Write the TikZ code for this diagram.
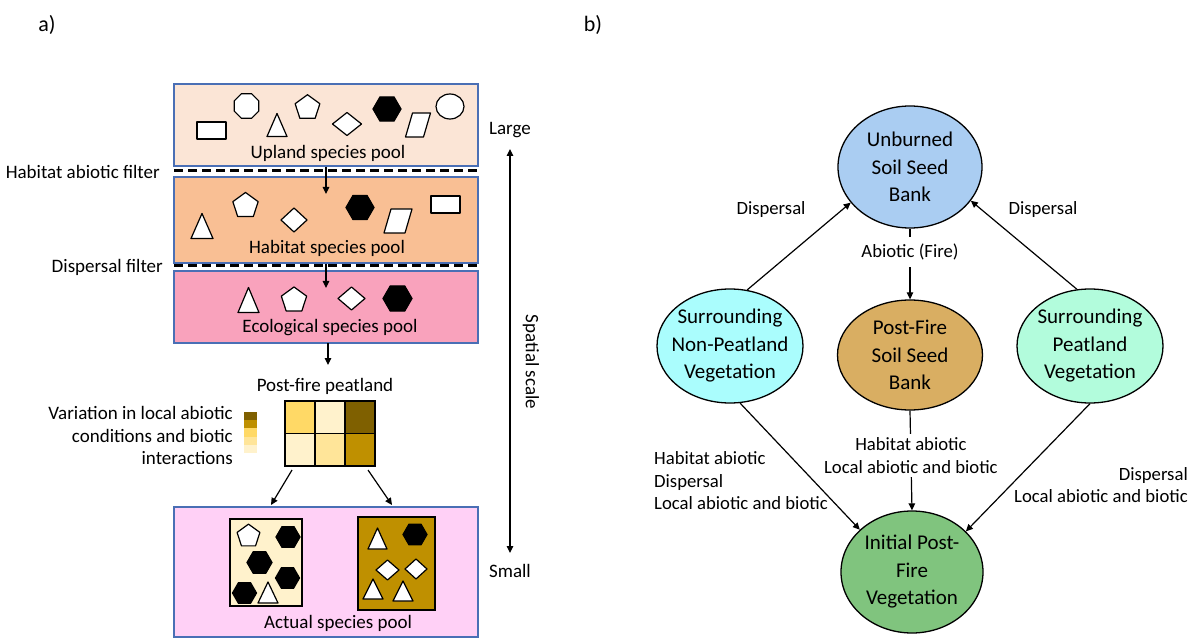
\documentclass[tikz,border=0pt]{standalone}
\usepackage{fontspec}
\setmainfont{Carlito}
\usetikzlibrary{arrows.meta,shapes.geometric}
\definecolor{boxblue}{HTML}{4A6FB5}
\definecolor{upl}{HTML}{FBE5D6}
\definecolor{hab}{HTML}{F9BF94}
\definecolor{eco}{HTML}{F9A2BC}
\definecolor{act}{HTML}{FFD0F6}
\definecolor{cA}{HTML}{7F6000}
\definecolor{cB}{HTML}{BF9000}
\definecolor{cC}{HTML}{FFD966}
\definecolor{cD}{HTML}{FFE599}
\definecolor{cE}{HTML}{FFF2CC}
\definecolor{ubc}{HTML}{AACDF2}
\definecolor{pfc}{HTML}{D9AE62}
\definecolor{npc}{HTML}{AAFDFD}
\definecolor{pvc}{HTML}{B2FCDC}
\definecolor{inc}{HTML}{80C47E}
\newcommand\sTri[4]{\filldraw[sym] (#1-#3/2,#2+#4/2) -- (#1+#3/2,#2+#4/2) -- (#1,#2-#4/2) -- cycle;}
\newcommand\sPent[3]{\filldraw[sym] (#1,#2+0.095*#3) +(-90:#3) -- +(-18:#3) -- +(54:#3) -- +(126:#3) -- +(198:#3) -- cycle;}
\newcommand\sHex[3]{\filldraw[blk] (#1,#2) +(0:#3) -- +(60:#3) -- +(120:#3) -- +(180:#3) -- +(240:#3) -- +(300:#3) -- cycle;}
\newcommand\sOct[3]{\filldraw[sym] (#1,#2) +(22.5:#3) -- +(67.5:#3) -- +(112.5:#3) -- +(157.5:#3) -- +(202.5:#3) -- +(247.5:#3) -- +(292.5:#3) -- +(337.5:#3) -- cycle;}
\newcommand\sDia[4]{\filldraw[sym] (#1-#3/2,#2) -- (#1,#2-#4/2) -- (#1+#3/2,#2) -- (#1,#2+#4/2) -- cycle;}
\newcommand\sPar[5]{\filldraw[sym] (#1-#3/2,#2+#4/2) -- (#1+#3/2-#5,#2+#4/2) -- (#1+#3/2,#2-#4/2) -- (#1-#3/2+#5,#2-#4/2) -- cycle;}
\newcommand\sRect[4]{\filldraw[sym] (#1-#3/2,#2-#4/2) rectangle (#1+#3/2,#2+#4/2);}
\begin{document}
\begin{tikzpicture}[x=1pt,y=-1pt,
  pool/.style={draw=boxblue, line width=1.1pt, minimum width=304pt, inner sep=0pt},
  lbl/.style={font=\fontsize{19}{22.5}\selectfont, inner sep=0pt},
  rlbl/.style={font=\fontsize{18.7}{22.5}\selectfont, inner sep=0pt},
  ell/.style={ellipse, draw=black, line width=1.3pt, align=center, inner sep=-20pt,
     font=\fontsize{21}{27.5}\selectfont},
  arr/.style={-{Triangle[length=7pt,width=6.5pt]}, line width=1.2pt},
  darr/.style={{Triangle[length=7pt,width=6.5pt]}-{Triangle[length=7pt,width=6.5pt]}, line width=1.2pt},
  sym/.style={draw=black, fill=white, line width=1.2pt, line join=round},
  blk/.style={draw=black, fill=black, line width=1.2pt},
  filt/.style={line width=3pt, dash pattern=on 9pt off 5pt}]
\useasboundingbox (0,0) rectangle (1192,639);
\fill[white] (0,0) rectangle (1192,639);

% panel labels
\node[font=\fontsize{22}{26}\selectfont, inner sep=0pt] (pa) at (47,25) {a)};
\node[font=\fontsize{22}{26}\selectfont, inner sep=0pt] (pb) at (593,25) {b)};

% ---------- panel a ----------
\node[pool, fill=upl, minimum height=82pt] (upland) at (326,125) {};
\node[pool, fill=hab, minimum height=86pt] (habitat) at (326,220) {};
\node[pool, fill=eco, minimum height=72pt] (ecol) at (326,307) {};
\node[pool, fill=act, minimum height=130pt] (actual) at (326,572) {};

\coordinate (f1a) at (174,171); \coordinate (f1b) at (478,171);
\coordinate (f2a) at (174,266); \coordinate (f2b) at (478,266);
\draw[filt] (f1a) -- (f1b);
\draw[filt] (f2a) -- (f2b);

\node[lbl] (tup) at (328,153) {Upland species pool};
\node[lbl] (thab) at (327,248) {Habitat species pool};
\node[lbl] (teco) at (330,328) {Ecological species pool};
\node[lbl] (tact) at (338,623) {Actual species pool};
\node[lbl, anchor=east] (tf1) at (160,172) {Habitat abiotic filter};
\node[lbl, anchor=east] (tf2) at (163,267) {Dispersal filter};

% upland symbols
\sRect{211.5}{130.5}{29}{17}
\sOct{246.5}{106}{13.3}
\sTri{277}{125}{20}{23}
\sPent{307.5}{106.5}{13}
\sDia{347}{124}{29}{23}
\sHex{387}{109}{14}
\sPar{418}{125}{25}{24}{7}
\filldraw[sym] (450,106.5) ellipse [x radius=14, y radius=12.5];
% habitat symbols
\sTri{202}{226}{22}{25}
\sPent{245.5}{204.5}{13.3}
\sDia{294}{220}{26}{24}
\sHex{360}{207.5}{14}
\sPar{398}{221}{28}{24}{7}
\sRect{445.5}{204.5}{29}{17}
% ecological symbols
\sTri{248.5}{300}{21}{25}
\sPent{294}{299}{13.3}
\sDia{351.5}{298.5}{27}{23}
\sHex{397.5}{298.5}{14.5}

% arrows down
\coordinate (h1) at (326,194);
\coordinate (e1) at (326,288);
\coordinate (p1) at (328,365);
\draw[arr] (upland.south) -- (h1);
\draw[arr] (habitat.south) -- (e1);
\draw[arr] (328,343) -- (p1);

% post-fire peatland grid
\node[lbl] (tpf) at (325,386) {Post-fire peatland};
\fill[cC] (285,401) rectangle (315,433.5);
\fill[cE] (315,401) rectangle (345,433.5);
\fill[cA] (345,401) rectangle (375,433.5);
\fill[cE] (285,433.5) rectangle (315,466);
\fill[cD] (315,433.5) rectangle (345,466);
\fill[cB] (345,433.5) rectangle (375,466);
\draw[line width=1.3pt] (315,401) -- (315,466) (345,401) -- (345,466) (285,433.5) -- (375,433.5);
\node[draw=black, line width=1.3pt, minimum width=90pt, minimum height=65pt, inner sep=0pt] (grid) at (330,433.5) {};

% colour bar
\fill[cA] (244,412) rectangle (257,420.2);
\fill[cB] (244,420.2) rectangle (257,428.4);
\fill[cC] (244,428.4) rectangle (257,436.6);
\fill[cD] (244,436.6) rectangle (257,444.8);
\fill[cE] (244,444.8) rectangle (257,453);
\node[lbl, align=right, anchor=east] (tvar) at (233,435.5) {Variation in local abiotic\\conditions and biotic\\interactions};

% arrows to actual pool
\coordinate (g1) at (292,470); \coordinate (a1) at (271,505);
\coordinate (g2) at (368,470); \coordinate (a2) at (392,505);
\draw[arr] (g1) -- (a1);
\draw[arr] (g2) -- (a2);

% actual pool inner boxes
\node[draw=black, fill=cE, line width=1.2pt, minimum width=72pt, minimum height=87pt, inner sep=0pt] (inL) at (266,562.5) {};
\node[draw=black, fill=cB, line width=1.2pt, minimum width=77pt, minimum height=93pt, inner sep=0pt] (inR) at (396.5,563.5) {};
\sPent{248.5}{535}{12}
\sHex{288}{537}{12}
\sHex{259.5}{562.5}{12.5}
\sHex{287.5}{578}{12}
\sHex{244.5}{593}{12}
\sTri{268}{592.5}{20}{21}
\sTri{377.5}{538.5}{19}{21}
\sHex{415}{534.5}{12}
\sDia{387.5}{570}{23}{20}
\sDia{416}{569}{22}{20}
\sTri{373}{589}{20}{20}
\sTri{403}{591}{20}{20}

% spatial scale
\coordinate (sTop) at (510,149); \coordinate (sBot) at (510,553);
\draw[darr] (sTop) -- (sBot);
\node[lbl] (tlarge) at (510,130) {Large};
\node[lbl] (tsmall) at (510,571) {Small};
\node[lbl, rotate=-90] (tscale) at (531,362) {Spatial scale};

% ---------- panel b ----------
\node[ell, fill=ubc, minimum width=144pt, minimum height=122pt] (ub) at (910,167) {Unburned\\Soil Seed\\Bank};
\node[ell, fill=pfc, minimum width=145pt, minimum height=110pt] (pf) at (910,355) {Post-Fire\\Soil Seed\\Bank};
\node[ell, fill=npc, minimum width=146pt, minimum height=114pt] (np) at (730,346) {Surrounding\\Non-Peatland\\Vegetation};
\node[ell, fill=pvc, minimum width=146pt, minimum height=114pt] (pv) at (1090,346) {Surrounding\\Peatland\\Vegetation};
\node[ell, fill=inc, minimum width=142pt, minimum height=122pt] (init) at (912,572) {Initial Post-\\Fire\\Vegetation};

\draw[arr] (np.73) -- (ub.211);
\draw[arr] (pv.103) -- (ub.331);
\draw[arr] (ub.south) -- (pf.north) node[pos=0.33, fill=white, rlbl, inner xsep=6pt, inner ysep=7pt] (tfire) {Abiotic (Fire)};
\draw[arr] (pf.south) -- (init.north) node[pos=0.45, fill=white, rlbl, align=center, inner xsep=6pt, inner ysep=4pt] (tmid) {Habitat abiotic\\Local abiotic and biotic};
\draw[arr] (np.-80) -- (init.141);
\draw[arr] (pv.-90) -- (init.37);

\node[rlbl] (td1) at (771,210) {Dispersal};
\node[rlbl] (td2) at (1043,210) {Dispersal};
\node[rlbl, align=left, anchor=west] (tll) at (654,481) {Habitat abiotic\\Dispersal\\Local abiotic and biotic};
\node[rlbl, align=right, anchor=east] (tlr) at (1188,485) {Dispersal\\Local abiotic and biotic};
\end{tikzpicture}
\end{document}
